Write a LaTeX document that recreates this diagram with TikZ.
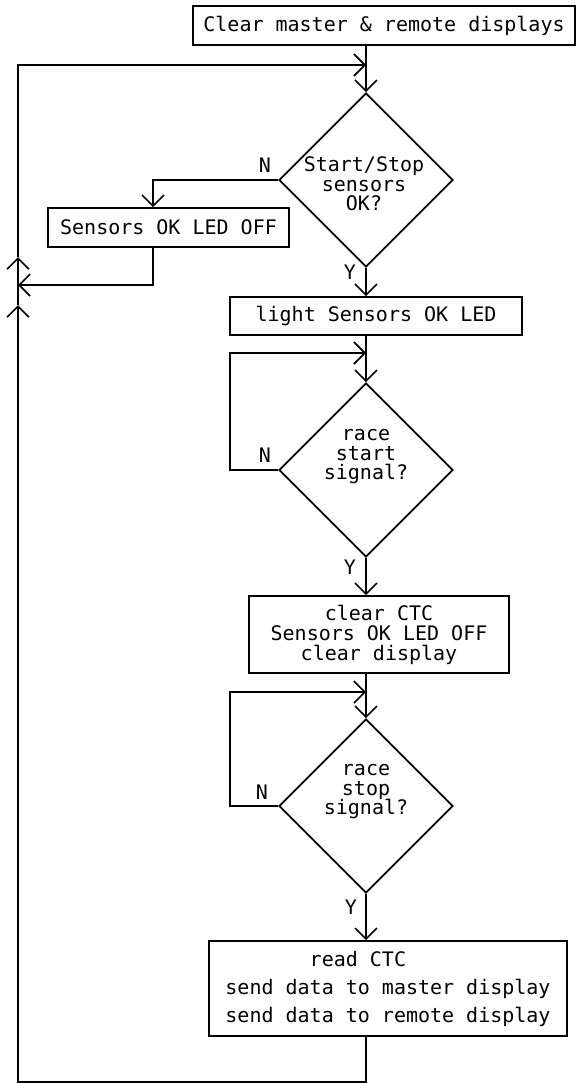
\documentclass[tikz,border=0pt]{standalone}
\usepackage{fontspec}
\setmonofont{DejaVu Sans Mono}
\usetikzlibrary{shapes.geometric,arrows.meta}
\begin{document}
\begin{tikzpicture}[x=1pt,y=-1pt,
  lw/.style={line width=1.7pt},
  arr/.style={lw,-{Straight Barb[length=11pt,width=22pt,line width=1.6pt]}},
  boxn/.style={draw,lw,rectangle,inner sep=0pt,font=\ttfamily\fontsize{20}{20}\selectfont,align=center},
  dia/.style={draw,lw,diamond,inner sep=0pt,minimum width=174pt,minimum height=174pt},
  txt/.style={inner sep=0pt,font=\ttfamily\fontsize{20}{19.5}\selectfont,align=center},
  lab/.style={inner sep=0pt,font=\ttfamily\fontsize{20}{20}\selectfont},
]
\useasboundingbox (0,0) rectangle (578,1084);

\node[boxn,minimum width=382pt,minimum height=39pt] (b1) at (384,25.5) {Clear master \& remote displays};
\node[dia] (d1) at (366,180) {};
\node[txt] (d1t) at (364,184) {Start/Stop\\sensors\\OK?};
\node[boxn,minimum width=241pt,minimum height=39pt] (sens) at (168.5,227.5) {Sensors OK LED OFF};
\node[boxn,minimum width=292pt,minimum height=38pt] (b2) at (376,316) {light Sensors OK LED};
\node[dia] (d2) at (366,470) {};
\node[txt] (d2t) at (366,457) {race\\start\\signal?};
\node[boxn,minimum width=260pt,minimum height=77pt] (b3) at (379,634.5) {clear CTC\\Sensors OK LED OFF\\clear display};
\node[dia] (d3) at (366,806) {};
\node[txt] (d3t) at (366,792) {race\\stop\\signal?};
\node[boxn,minimum width=358pt,minimum height=95pt,align=left,font=\ttfamily\fontsize{20}{28}\selectfont] (b4) at (388,988.5) {\hphantom{XXXXXXX}read CTC\\send data to master display\\send data to remote display};

\node[lab] (n1) at (265,165) {N};
\node[lab] (n2) at (265,455) {N};
\node[lab] (n3) at (262,792) {N};
\node[lab] (y1) at (350,272) {Y};
\node[lab] (y2) at (350,567) {Y};
\node[lab] (y3) at (351,907) {Y};

\coordinate (sx) at (153,0);
\coordinate (lt) at (18,65);
\coordinate (la) at (18,257);
\coordinate (lb) at (18,305);
\coordinate (lm) at (18,285);
\coordinate (lbot) at (18,1082);
\coordinate (k2) at (230,353);
\coordinate (k3) at (230,692);

\draw[arr] (b1.south -| d1.north) -- (d1.north);
\draw[arr] (la) -- (lt) -- (lt -| d1.north);
\draw[arr] (d1.west) -| (sens.north -| sx);
\draw[arr] (sens.south -| sx) |- (lm);
\draw[arr] (d1.south) -- (b2.north -| d1.south);
\draw[arr] (b2.south -| d2.north) -- (d2.north);
\draw[arr] (d2.west) -| (k2) -- (k2 -| d2.north);
\draw[arr] (d2.south) -- (b3.north -| d2.south);
\draw[arr] (b3.south -| d3.north) -- (d3.north);
\draw[arr] (d3.west) -| (k3) -- (k3 -| d3.north);
\draw[arr] (d3.south) -- (b4.north -| d3.south);
\draw[arr] (b4.south -| d3.south) |- (lbot) -- (lb);
\draw[arr] (lb) -- (la);
\end{tikzpicture}
\end{document}
